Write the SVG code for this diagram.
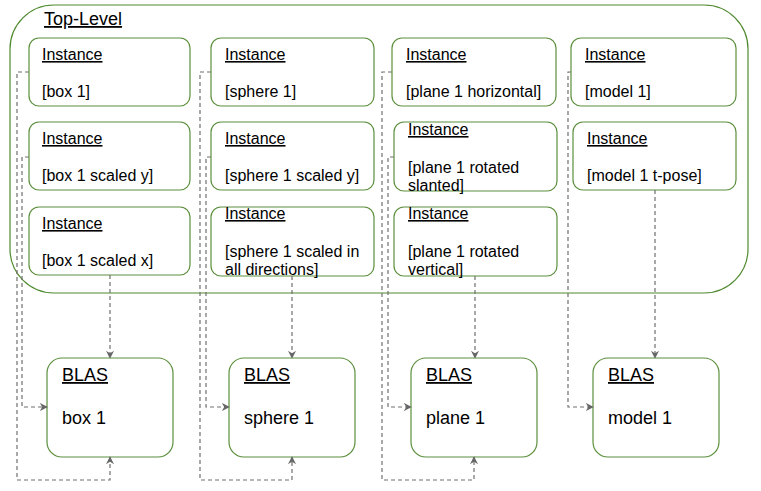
<svg xmlns="http://www.w3.org/2000/svg" width="761" height="491" viewBox="0 0 761 491">
<style>
.box{fill:#ffffff;stroke:#5b8f3c;stroke-width:1.2}
.top{fill:#ffffff;stroke:#4e8a2e;stroke-width:1.2}
.t{font-family:"Liberation Sans",Arial,sans-serif;font-size:16px;fill:#000}
.h{text-decoration:underline}
.b{font-family:"Liberation Sans",Arial,sans-serif;font-size:18px;fill:#000}
.c{fill:none;stroke:#707070;stroke-width:1.2;stroke-dasharray:4 3}
</style>
<defs>
<marker id="arr" viewBox="0 0 10 10" refX="9" refY="5" markerWidth="8" markerHeight="8" markerUnits="userSpaceOnUse" orient="auto">
<path d="M0,0 L10,5 L0,10 L3,5 Z" fill="#666666"/>
</marker>
</defs>
<g id="top-level">
<rect class="top" x="10" y="5" width="738" height="288" rx="44" ry="44"/>
<text class="b h" x="44" y="25">Top-Level</text>
</g>
<g id="inst-box1">
<rect class="box" x="29" y="38" width="161" height="68" rx="10"/>
<text class="t h" x="42" y="60">Instance</text>
<text class="t" x="42" y="97">[box 1]</text>
</g>
<g id="inst-box1-sy">
<rect class="box" x="29" y="122" width="161" height="68" rx="10"/>
<text class="t h" x="42" y="144">Instance</text>
<text class="t" x="42" y="181">[box 1 scaled y]</text>
</g>
<g id="inst-box1-sx">
<rect class="box" x="29" y="207" width="161" height="68" rx="10"/>
<text class="t h" x="42" y="229">Instance</text>
<text class="t" x="42" y="266">[box 1 scaled x]</text>
</g>
<g id="inst-sphere1">
<rect class="box" x="211" y="38" width="163" height="68" rx="10"/>
<text class="t h" x="225" y="60">Instance</text>
<text class="t" x="225" y="97">[sphere 1]</text>
</g>
<g id="inst-sphere1-sy">
<rect class="box" x="211" y="122" width="163" height="68" rx="10"/>
<text class="t h" x="225" y="144">Instance</text>
<text class="t" x="225" y="181">[sphere 1 scaled y]</text>
</g>
<g id="inst-sphere1-all">
<rect class="box" x="211" y="207" width="163" height="69" rx="10"/>
<text class="t h" x="225" y="219">Instance</text>
<text class="t" x="225" y="257">[sphere 1 scaled in</text>
<text class="t" x="225" y="275">all directions]</text>
</g>
<g id="inst-plane1-h">
<rect class="box" x="392" y="38" width="164" height="68" rx="10"/>
<text class="t h" x="406" y="60">Instance</text>
<text class="t" x="406" y="97">[plane 1 horizontal]</text>
</g>
<g id="inst-plane1-s">
<rect class="box" x="394" y="122" width="163" height="69" rx="10"/>
<text class="t h" x="408" y="135">Instance</text>
<text class="t" x="408" y="173">[plane 1 rotated</text>
<text class="t" x="408" y="191">slanted]</text>
</g>
<g id="inst-plane1-v">
<rect class="box" x="394" y="207" width="163" height="69" rx="10"/>
<text class="t h" x="408" y="219">Instance</text>
<text class="t" x="408" y="257">[plane 1 rotated</text>
<text class="t" x="408" y="275">vertical]</text>
</g>
<g id="inst-model1">
<rect class="box" x="571" y="38" width="165" height="68" rx="10"/>
<text class="t h" x="585" y="60">Instance</text>
<text class="t" x="585" y="97">[model 1]</text>
</g>
<g id="inst-model1-t">
<rect class="box" x="573" y="122" width="163" height="68" rx="10"/>
<text class="t h" x="587" y="144">Instance</text>
<text class="t" x="587" y="181">[model 1 t-pose]</text>
</g>
<g id="blas-box1">
<rect class="box" x="47" y="358" width="126" height="99" rx="15"/>
<text class="b h" x="62" y="381">BLAS</text>
<text class="b" x="62" y="424">box 1</text>
</g>
<g id="blas-sphere1">
<rect class="box" x="229" y="358" width="126" height="99" rx="15"/>
<text class="b h" x="244" y="381">BLAS</text>
<text class="b" x="244" y="424">sphere 1</text>
</g>
<g id="blas-plane1">
<rect class="box" x="411" y="358" width="126" height="99" rx="15"/>
<text class="b h" x="426" y="381">BLAS</text>
<text class="b" x="426" y="424">plane 1</text>
</g>
<g id="blas-model1">
<rect class="box" x="593" y="358" width="126" height="99" rx="15"/>
<text class="b h" x="608" y="381">BLAS</text>
<text class="b" x="608" y="424">model 1</text>
</g>
<g id="connectors">
<path class="c" marker-end="url(#arr)" d="M29,72 H17 V480 H110 V457"/>
<path class="c" marker-end="url(#arr)" d="M29,157 H22 V407 H47"/>
<path class="c" marker-end="url(#arr)" d="M110,275 V358"/>
<path class="c" marker-end="url(#arr)" d="M211,72 H200 V480 H292 V457"/>
<path class="c" marker-end="url(#arr)" d="M211,157 H206 V407 H229"/>
<path class="c" marker-end="url(#arr)" d="M292,276 V358"/>
<path class="c" marker-end="url(#arr)" d="M392,72 H382 V480 H474 V457"/>
<path class="c" marker-end="url(#arr)" d="M394,157 H388 V407 H411"/>
<path class="c" marker-end="url(#arr)" d="M475,276 V358"/>
<path class="c" marker-end="url(#arr)" d="M571,72 H568 V407 H593"/>
<path class="c" marker-end="url(#arr)" d="M655,190 V358"/>
</g>
</svg>
